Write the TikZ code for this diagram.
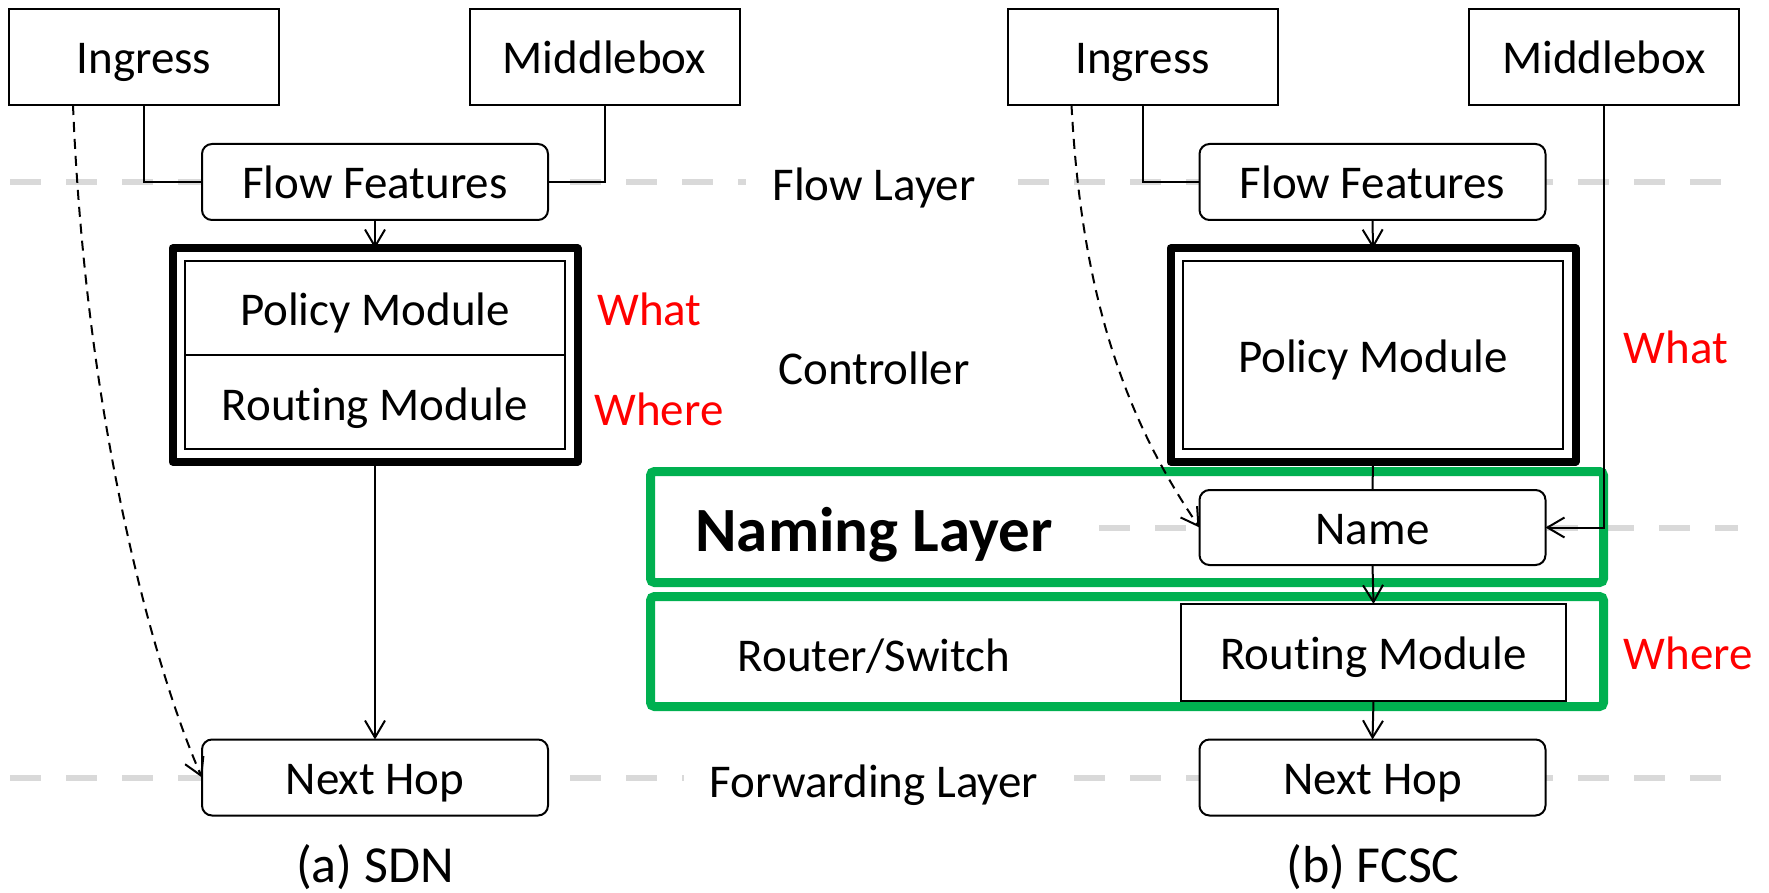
\documentclass[tikz,border=0pt]{standalone}
\usepackage{fontspec}
\setmainfont{Carlito}[Ligatures=NoCommon]
\usetikzlibrary{arrows.meta,calc}

\definecolor{layergray}{RGB}{217,217,217}
\definecolor{zonegreen}{RGB}{0,176,80}
\definecolor{tagred}{RGB}{255,0,0}

\begin{document}
\begin{tikzpicture}[x=1pt,y=-1pt,
  every node/.style={font=\fontsize{47}{56}\selectfont, inner sep=0pt, outer sep=0pt,
                     text height=45pt, text depth=11pt},
  hostbox/.style={draw, line width=2pt, fill=white, minimum width=270pt, minimum height=96pt},
  roundbox/.style={draw, line width=2pt, fill=white, rounded corners=10pt,
                   minimum width=346pt, minimum height=76pt},
  ctrlbox/.style={draw, line width=8pt, line join=round, fill=white,
                  minimum width=405pt, minimum height=213pt},
  innerbox/.style={draw, line width=2pt, minimum width=380pt, minimum height=188pt},
  modbox/.style={draw, line width=2pt, fill=white, minimum width=385pt, minimum height=97pt},
  layerline/.style={draw=layergray, line width=6pt, dash pattern=on 31pt off 25pt},
  layertag/.style={fill=white, inner xsep=26pt, inner ysep=4pt},
  zone/.style={draw=zonegreen, line width=9pt, rounded corners=4pt},
  tag/.style={text=tagred},
  caption/.style={font=\fontsize{52}{62}\selectfont, text height=47pt, text depth=12pt},
  link/.style={line width=2pt},
  flow/.style={line width=2pt, -{Straight Barb[length=17pt,width=20pt,line width=2pt]}},
  hint/.style={line width=2pt, dash pattern=on 10pt off 7pt,
               -{Straight Barb[length=17pt,width=20pt,line width=2pt]}}
]
\useasboundingbox (0,0) rectangle (1769,893);

% layer guide lines
\path[layerline] (10,182) -- (1721,182);
\path[layerline] (1099,528) -- (1738,528);
\path[layerline] (10,778) -- (1721,778);

% layer names in the middle column
\node[layertag] (flowlayer) at (874,184) {Flow Layer};
\node (controller) at (874,367) {Controller};
\node[layertag] (fwdlayer) at (874,780) {Forwarding Layer};

% green zones of the FCSC design
\node[zone, minimum width=953pt, minimum height=111pt] (namezone) at (1127,527) {};
\node[zone, minimum width=953pt, minimum height=110pt] (routezone) at (1127,651.5) {};
\node[font=\bfseries\fontsize{63}{75}\selectfont, text height=58pt, text depth=15pt]
  (naminglayer) at (874,530) {Naming Layer};
\node (routerswitch) at (874,654) {Router/Switch};

% ---------- (a) SDN ----------
\node[hostbox] (ingL) at (144,57) {Ingress};
\node[hostbox] (midL) at (604.5,57) {Middlebox};
\node[roundbox] (ffL) at (375,182) {Flow Features};
\node[ctrlbox] (ctrlL) at (375,355) {};
\node[innerbox] (innL) at (375,355) {};
\draw[link] (innL.west) -- (innL.east);
\node (polL) at (375,308) {Policy Module};
\node (rouL) at (375,403) {Routing Module};
\node[roundbox] (nextL) at (375,777.5) {Next Hop};
\node[tag] (whatL) at (649.5,308) {What};
\node[tag] (whereL) at (659,408) {Where};
\node[caption] (capL) at (375,865) {(a) SDN};

\draw[link] (ingL.south) |- (ffL.west);
\draw[link] (midL.south) |- (ffL.east);
\draw[flow] (ffL.south) -- (ctrlL.north);
\draw[flow] (ctrlL.south) -- (nextL.north);
\draw[hint] ([xshift=-71pt]ingL.south) .. controls +(14,345) and +(-38,-85) .. (nextL.west);

% ---------- (b) FCSC ----------
\node[hostbox] (ingR) at (1142.5,57) {Ingress};
\node[hostbox] (midR) at (1604,57) {Middlebox};
\node[roundbox] (ffR) at (1372.5,182) {Flow Features};
\node[ctrlbox] (ctrlR) at (1373,355) {};
\node[innerbox] (innR) at (1373,355) {};
\node (polR) at (1373,355) {Policy Module};
\node[roundbox, minimum height=75pt] (nameR) at (1372.5,527.5) {Name};
\node[modbox] (rouR) at (1373.5,652.5) {Routing Module};
\node[roundbox] (nextR) at (1372.5,777.5) {Next Hop};
\node[tag] (whatR) at (1676,346) {What};
\node[tag] (whereR) at (1688,652) {Where};
\node[caption] (capR) at (1373,865) {(b) FCSC};

\draw[link] (ingR.south) |- (ffR.west);
\draw[flow] (ffR.south) -- (ctrlR.north);
\draw[link] (ctrlR.south) -- (nameR.north);
\draw[flow] (nameR.south) -- (rouR.north);
\draw[flow] (rouR.south) -- (nextR.north);
\draw[flow] (midR.south) |- (nameR.east);
\draw[hint] ([xshift=-71pt]ingR.south) .. controls +(10,190) and +(-75,-110) .. (nameR.west);
\end{tikzpicture}
\end{document}
